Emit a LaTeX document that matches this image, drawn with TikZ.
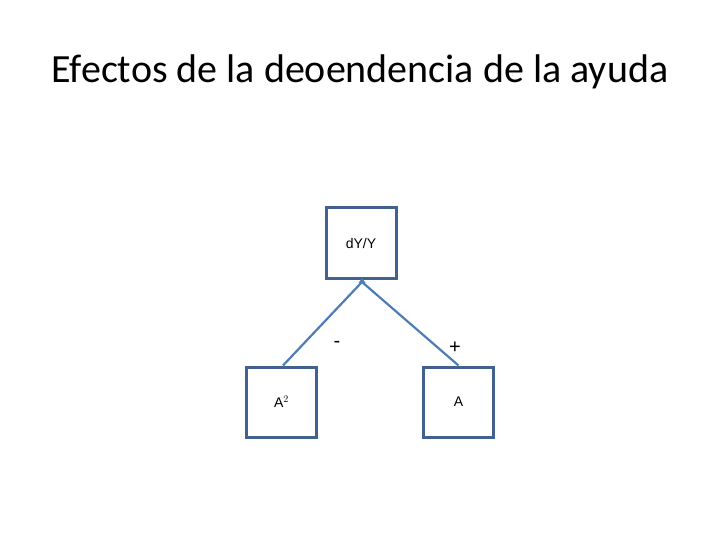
\documentclass[tikz,border=0pt]{standalone}
\usepackage{fontspec}
\setmainfont{Carlito}
\newfontfamily\boxfont{Liberation Sans}
\definecolor{boxedge}{HTML}{41618F}
\definecolor{linkline}{HTML}{4F7CB5}
\tikzset{
	factor/.style={draw=boxedge,line width=3pt,minimum size=70pt,inner sep=0pt,font=\boxfont\fontsize{14}{16}\selectfont},
	link/.style={draw=linkline,line width=2.2pt},
	sign/.style={font=\boxfont\fontsize{20}{22}\selectfont}
}
\begin{document}
\begin{tikzpicture}[x=1pt,y=-1pt]
	\useasboundingbox (0,0) rectangle (720,540);
	\node[font=\fontsize{40}{46}\selectfont] (title) at (360,72) {Efectos de la deoendencia de la ayuda};
	\node[factor] (dY) at (361,243) {dY/Y};
	\node[factor] (Asq) at (281.5,402) {A$^{2}$};
	\node[factor] (A) at (458.5,402) {A};
	\coordinate (join) at (362,282);
	\draw[link] (Asq.north) ++(1.5,0) coordinate (Asqtop) -- (join);
	\draw[link] (A.north) coordinate (Atop) -- (join);
	\fill[linkline] (join) ++(-3.5,1) -- ++(3.5,-5) -- ++(3.5,5) -- cycle;
	\node[sign] (minus) at (337,344) {-};
	\node[sign] (plus) at (455,348) {+};
\end{tikzpicture}
\end{document}
